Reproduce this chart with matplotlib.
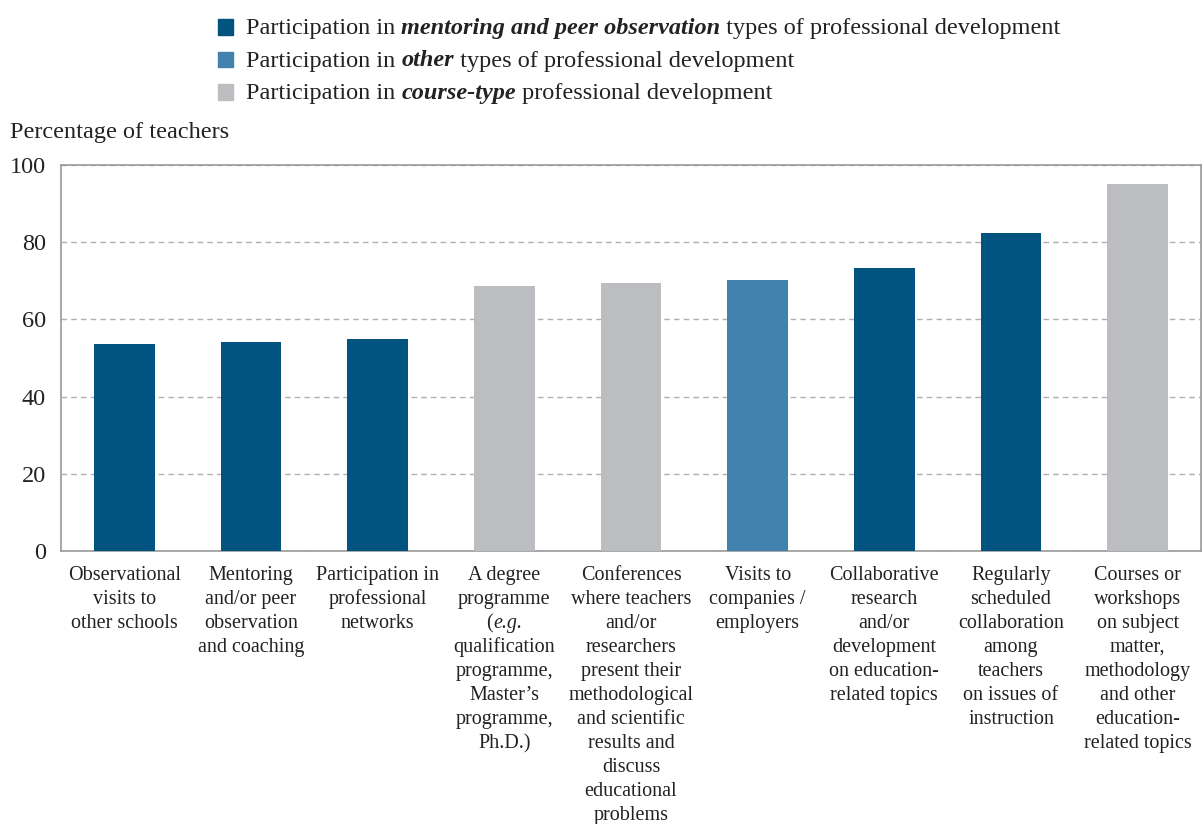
import matplotlib
matplotlib.use('Agg')
import matplotlib.pyplot as plt
from matplotlib.patches import Rectangle
from matplotlib.transforms import offset_copy, blended_transform_factory

FONT = 'Liberation Serif'
plt.rcParams['font.family'] = FONT

# categories (one list of text runs per line: (text, style))
labels = [
    ["Observational", "visits to", "other schools"],
    ["Mentoring", "and/or peer", "observation", "and coaching"],
    ["Participation in", "professional", "networks"],
    ["A degree", "programme", [("(", "normal"), ("e.g.", "italic")], "qualification",
     "programme,", "Master\u2019s", "programme,", "Ph.D.)"],
    ["Conferences", "where teachers", "and/or", "researchers", "present their",
     "methodological", "and scientific", "results and", "discuss", "educational", "problems"],
    ["Visits to", "companies /", "employers"],
    ["Collaborative", "research", "and/or", "development", "on education-", "related topics"],
    ["Regularly", "scheduled", "collaboration", "among", "teachers", "on issues of", "instruction"],
    ["Courses or", "workshops", "on subject", "matter,", "methodology", "and other",
     "education-", "related topics"],
]
values = [53.6, 54.1, 54.9, 68.7, 69.4, 70.2, 73.3, 82.4, 95.1]
groups = ['mentor', 'mentor', 'mentor', 'course', 'course', 'other', 'mentor', 'mentor', 'course']

colors = {'mentor': '#00547F', 'other': '#4183AE', 'course': '#BCBDC1'}
legend_rows = [
    ('mentor', [("Participation in ", "normal", "normal"),
                ("mentoring and peer observation", "italic", "bold"),
                (" types of professional development", "normal", "normal")]),
    ('other', [("Participation in ", "normal", "normal"),
               ("other", "italic", "bold"),
               (" types of professional development", "normal", "normal")]),
    ('course', [("Participation in ", "normal", "normal"),
                ("course-type", "italic", "bold"),
                (" professional development", "normal", "normal")]),
]

fig = plt.figure(figsize=(12.03, 8.24), dpi=100)
ax = fig.add_axes([61 / 1203, 1 - 551 / 824, 1140 / 1203, 386 / 824])
renderer = fig.canvas.get_renderer()

x = list(range(len(values)))
ax.bar(x, values, width=0.48, color=[colors[g] for g in groups], zorder=3)
ax.set_xlim(-0.5, len(values) - 0.5)
ax.set_ylim(0, 100)
ax.set_yticks([0, 20, 40, 60, 80, 100])
ax.set_xticks([])
ax.tick_params(axis='y', length=0, pad=11, labelsize=17.5, labelcolor='#222222')
ax.yaxis.grid(True, color='#B0B0B0', linestyle=(0, (4, 3)), linewidth=1, zorder=0)
for sp in ax.spines.values():
    sp.set_color('#999999')
    sp.set_linewidth(1.2)

fig.text(10 / 1203, 1 - 138 / 824, "Percentage of teachers", fontsize=17.5,
         color='#222222', ha='left', va='baseline')


def text_width(s, size, style='normal', weight='normal'):
    # measure with a sentinel so that spaces are counted
    t = fig.text(0, 0, s + "|", fontsize=size, style=style, weight=weight)
    t2 = fig.text(0, 0, "|", fontsize=size, style=style, weight=weight)
    w = t.get_window_extent(renderer).width - t2.get_window_extent(renderer).width
    t.remove()
    t2.remove()
    return w


def draw_runs(artist_owner, xx, yy, runs, transform, dx, dy, size, ha='left'):
    runs = [(r[0], r[1], r[2] if len(r) > 2 else 'normal') for r in runs]
    widths = [text_width(s, size, st, wt) for s, st, wt in runs]
    start = dx if ha == 'left' else dx - sum(widths) / 2
    for (s, st, wt), w in zip(runs, widths):
        tr = offset_copy(transform, fig=fig, x=start, y=dy, units='dots')
        artist_owner.text(xx, yy, s, transform=tr, fontsize=size, style=st, weight=wt,
                          color='#222222', ha='left', va='baseline')
        start += w


# category labels under the bars
lab_tr = blended_transform_factory(ax.transData, ax.transAxes)
for i, lines in enumerate(labels):
    for j, line in enumerate(lines):
        runs = [(line, 'normal')] if isinstance(line, str) else line
        draw_runs(ax, i, 0, runs, lab_tr, 0, -(29 + 24 * j), 14.5, ha='center')

# legend at the top
for k, (g, runs) in enumerate(legend_rows):
    yc = 27 + 32.5 * k
    fig.patches.append(Rectangle((218 / 1203, 1 - (yc + 7.5) / 824), 15 / 1203, 15 / 824,
                                 transform=fig.transFigure, color=colors[g]))
    draw_runs(fig, 246 / 1203, 1 - (yc + 7) / 824, runs, fig.transFigure, 0, 0, 17.5)

fig.savefig('out.png', dpi=100)
